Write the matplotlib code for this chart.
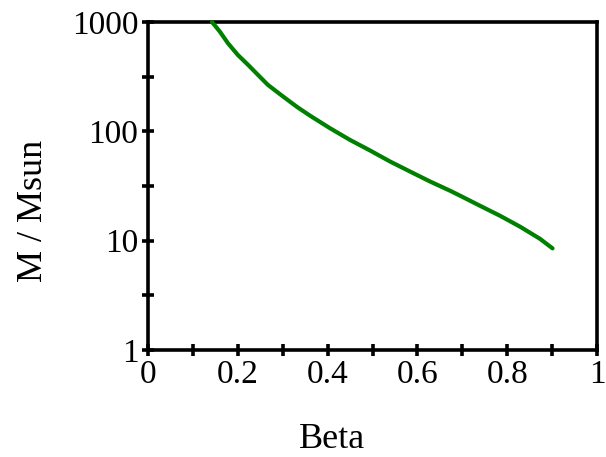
import matplotlib
matplotlib.use("Agg")
import matplotlib.pyplot as plt
from matplotlib.ticker import FixedLocator, NullFormatter

beta = [0.1425, 0.160, 0.178, 0.200, 0.223, 0.245, 0.267, 0.297, 0.316, 0.333,
        0.361, 0.405, 0.450, 0.494, 0.539, 0.584, 0.628, 0.673, 0.695, 0.739,
        0.784, 0.829, 0.873, 0.901]
mass = [1000, 817, 640, 500, 405, 328, 266, 214, 187, 166,
        139, 107, 83.4, 67.0, 53.0, 42.8, 34.8, 28.6, 25.8, 20.9,
        16.9, 13.4, 10.4, 8.5]

xticks = [0, 0.2, 0.4, 0.6, 0.8, 1]
xtick_labels = ["0", "0.2", "0.4", "0.6", "0.8", "1"]
yticks = [1, 10, 100, 1000]
ytick_labels = ["1", "10", "100", "1000"]

plt.rcParams['font.family'] = ['Liberation Serif', 'DejaVu Serif']

W, H = 606, 457
fig = plt.figure(figsize=(W/100, H/100), dpi=100)
ax = fig.add_axes([148/W, 1 - 350/H, (597-148)/W, (350-22)/H])

ax.plot(beta, mass, color='#008000', lw=3.0, solid_capstyle='round',
        solid_joinstyle='round', clip_on=False, zorder=3)
ax.set_yscale('log')
ax.set_xlim(0, 1)
ax.set_ylim(1, 1000)

ax.set_xticks(xticks)
ax.set_xticklabels(xtick_labels)
ax.set_yticks(yticks)
ax.set_yticklabels(ytick_labels)
ax.xaxis.set_minor_locator(FixedLocator([0.1, 0.3, 0.5, 0.7, 0.9]))
ax.yaxis.set_minor_locator(FixedLocator([10**0.5, 10**1.5, 10**2.5]))
ax.yaxis.set_minor_formatter(NullFormatter())

for s in ax.spines.values():
    s.set_linewidth(2.6)

ax.tick_params(which='both', direction='inout', length=8, width=2.6,
               top=False, right=False, labelsize=24, pad=3)

fig.text(332/W, 1 - 448/H, "Beta", fontsize=26, ha='center', va='baseline')
fig.text(42/W, 1 - 211/H, "M / Msun", fontsize=26, ha='center', va='baseline',
         rotation=90, rotation_mode='anchor')

fig.savefig("out.png", dpi=100)
